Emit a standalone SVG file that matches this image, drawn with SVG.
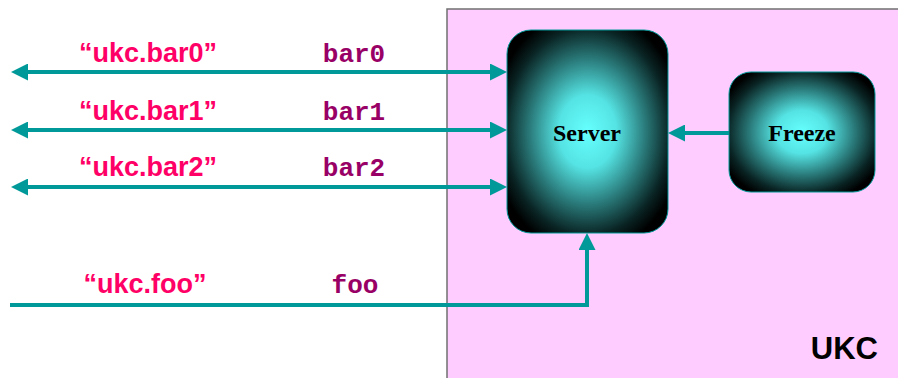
<svg xmlns="http://www.w3.org/2000/svg" width="898" height="378" viewBox="0 0 898 378">
<style>
.conn{stroke:#009999;stroke-width:4;fill:none}
.lbl{font-family:"Liberation Sans",Arial,sans-serif;font-weight:bold;font-size:27px;fill:#FF0066}
.code{font-family:"Liberation Mono","Courier New",monospace;font-weight:bold;font-size:26px;fill:#990066}
.node{font-family:"Liberation Serif","Times New Roman",serif;font-weight:bold;font-size:24px;fill:#000}
.box{stroke:#009999;stroke-width:1}
</style>
<defs>
<radialGradient id="glow" cx="0.5" cy="0.5" r="0.6">
<stop offset="0" stop-color="#66FFFF"/>
<stop offset="0.3" stop-color="#55E3E3"/>
<stop offset="0.6" stop-color="#2A7A7A"/>
<stop offset="0.85" stop-color="#0A2424"/>
<stop offset="1" stop-color="#000000"/>
</radialGradient>
<marker id="ah" viewBox="0 0 17 17" refX="13" refY="8.5" markerWidth="17" markerHeight="17" markerUnits="userSpaceOnUse" orient="auto-start-reverse">
<path d="M0,0 L17,8.5 L0,17 z" fill="#009999"/>
</marker>
</defs>
<g id="ukc">
<rect x="447" y="9" width="460" height="380" fill="#FFCCFF" stroke="#707070" stroke-width="1.5"/>
<text x="878" y="359" text-anchor="end" font-family="Liberation Sans,Arial,sans-serif" font-weight="bold" font-size="31" fill="#000">UKC</text>
</g>
<g id="connectors">
<line class="conn" x1="15" y1="72" x2="503" y2="72" marker-start="url(#ah)" marker-end="url(#ah)"/>
<line class="conn" x1="15" y1="130" x2="503" y2="130" marker-start="url(#ah)" marker-end="url(#ah)"/>
<line class="conn" x1="15" y1="187" x2="503" y2="187" marker-start="url(#ah)" marker-end="url(#ah)"/>
<line class="conn" x1="729" y1="133" x2="672" y2="133" marker-end="url(#ah)"/>
<polyline class="conn" points="10,305 587,305 587,237" marker-end="url(#ah)"/>
<text class="lbl" x="148" y="62" text-anchor="middle">“ukc.bar0”</text>
<text class="code" x="354" y="62" text-anchor="middle">bar0</text>
<text class="lbl" x="148" y="120" text-anchor="middle">“ukc.bar1”</text>
<text class="code" x="354" y="120" text-anchor="middle">bar1</text>
<text class="lbl" x="148" y="176" text-anchor="middle">“ukc.bar2”</text>
<text class="code" x="354" y="176" text-anchor="middle">bar2</text>
<text class="lbl" x="145" y="293" text-anchor="middle">“ukc.foo”</text>
<text class="code" x="355" y="293" text-anchor="middle">foo</text>
</g>
<g id="server">
<rect class="box" x="507" y="30" width="161" height="203" rx="24" fill="url(#glow)"/>
<text class="node" x="587" y="141" text-anchor="middle">Server</text>
</g>
<g id="freeze">
<rect class="box" x="729" y="72" width="146" height="120" rx="22" fill="url(#glow)"/>
<text class="node" x="802" y="141" text-anchor="middle">Freeze</text>
</g>
</svg>
